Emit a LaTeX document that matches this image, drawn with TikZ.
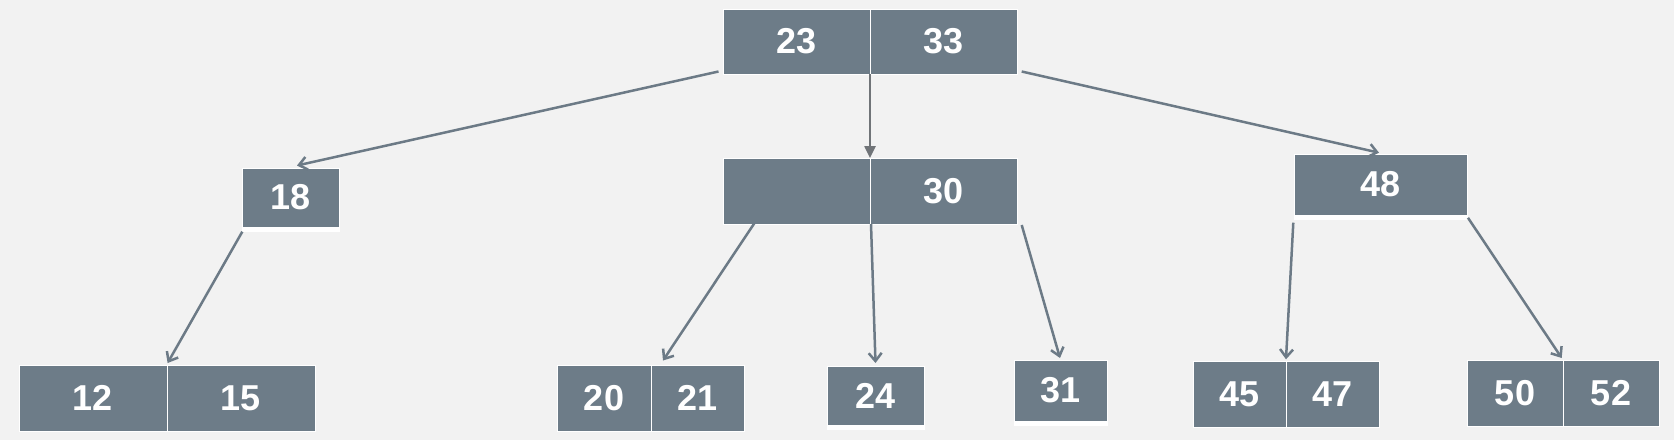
\documentclass[tikz,border=0pt]{standalone}
\usepackage{fontspec}
\setmainfont{Liberation Sans}
\usetikzlibrary{arrows.meta,calc}
\definecolor{boxfill}{HTML}{6D7C88}
\definecolor{linecol}{HTML}{6C7A86}
\definecolor{midarrow}{HTML}{707478}
\definecolor{bg}{HTML}{F2F2F2}
\tikzset{
  cell/.style={draw=white, line width=1pt, fill=boxfill, text=white, inner sep=0pt, outer sep=0pt,
    font=\fontsize{36}{40}\selectfont\bfseries, anchor=center},
  shadowed/.style={preaction={draw=white, fill=white, transform canvas={yshift=-4.5pt}}},
  link/.style={draw=linecol, line width=2.5pt, -{Straight Barb[length=8pt,width=13pt,line width=2.5pt]}},
  vlink/.style={draw=midarrow, line width=2.5pt, -{Triangle[length=12pt,width=11pt]}}
}
\begin{document}
\begin{tikzpicture}[x=1pt,y=-1pt]
\fill[bg] (0,0) rectangle (1674,440);
\useasboundingbox (0,0) rectangle (1674,440);
% root
\node[cell, minimum width=147, minimum height=65] (r1) at (796.5,41.5) {23};
\node[cell, minimum width=147, minimum height=65] (r2) at (943.5,41.5) {33};
% middle level
\node[cell, shadowed, minimum width=97, minimum height=59] (n18) at (290.5,197.5) {18};
\node[cell, minimum width=147, minimum height=66] (m1) at (796.5,191) {};
\node[cell, minimum width=147, minimum height=66] (m2) at (943.5,191) {30};
\node[cell, shadowed, minimum width=173, minimum height=61] (n48) at (1380.5,184.5) {48};
% leaves
\node[cell, minimum width=148, minimum height=66] (a1) at (93,398) {12};
\node[cell, minimum width=148, minimum height=66] (a2) at (241,398) {15};
\node[cell, minimum width=94, minimum height=66] (b1) at (604,398) {20};
\node[cell, minimum width=93, minimum height=66] (b2) at (697.5,398) {21};
\node[cell, shadowed, minimum width=97, minimum height=59] (c) at (875.5,395.5) {24};
\node[cell, shadowed, minimum width=93, minimum height=61] (d) at (1060.5,390.5) {31};
\node[cell, minimum width=93, minimum height=66] (e1) at (1239.5,394) {45};
\node[cell, minimum width=93, minimum height=66] (e2) at (1332.5,394) {47};
\node[cell, minimum width=96, minimum height=66] (f1) at (1515,393) {50};
\node[cell, minimum width=96, minimum height=66] (f2) at (1611,393) {52};
% connectors
\draw[link] ($(r1.south west)+(-4.5,-2.5)$) -- ($(n18.north)+(6.5,-2.5)$);
\draw[vlink] (r1.south east) -- (m1.north east);
\draw[link] ($(r2.south east)+(4.7,-2.5)$) -- ($(n48.north)+(-1.5,-1.3)$);
\draw[link] ($(n18.south west)+(0.3,4.7)$) -- ($(a1.north east)+(0.6,-2)$);
\draw[link] ($(m1.south west)+(31.5,-1)$) -- ($(b2.north west)+(12,-4.5)$);
\draw[link] ($(m1.south east)+(1,0)$) -- ($(c.north)+(0,-3)$);
\draw[link] ($(m2.south east)+(4.7,1)$) -- ($(d.north)+(-0.5,-2)$);
\draw[link] ($(n48.south west)+(-0.7,7.7)$) -- ($(e1.north east)+(0,-1.7)$);
\draw[link] ($(n48.south east)+(1,2.8)$) -- ($(f1.north east)+(-1.3,-2)$);
\end{tikzpicture}
\end{document}
